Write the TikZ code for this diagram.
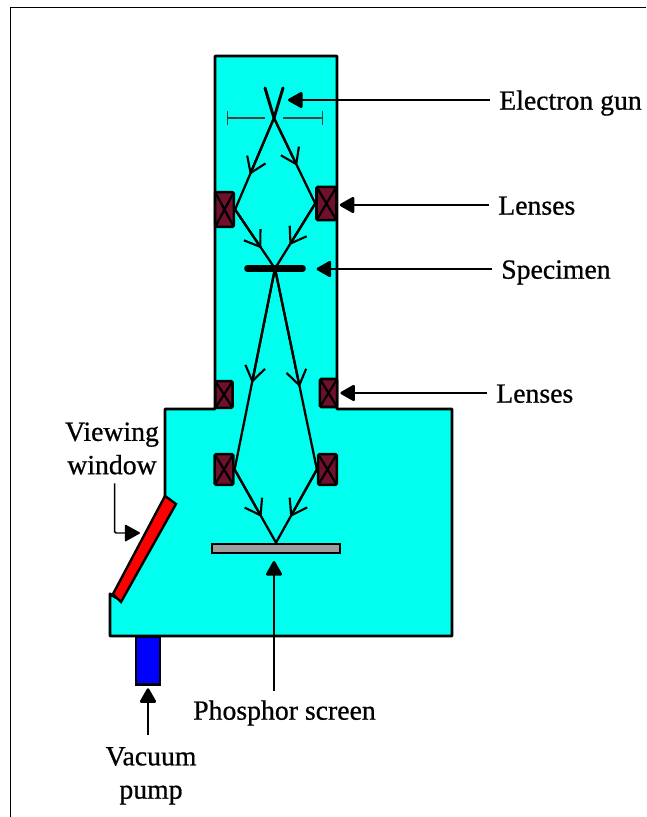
\documentclass[tikz,border=0pt]{standalone}
\usepackage{fontspec}
\setmainfont{Liberation Serif}
\newfontfamily\lblfont[RawFeature={embolden=0.7}]{Liberation Serif}
\usetikzlibrary{arrows.meta,positioning,calc}
\definecolor{chamber}{RGB}{0,255,238}
\definecolor{lensred}{RGB}{112,16,44}
\tikzset{
  lens/.style={draw=black,line width=1.9pt,fill=lensred,rounded corners=1pt,inner sep=0pt,
    path picture={\draw[black,line width=1.7pt] (path picture bounding box.north west) -- (path picture bounding box.south east)
      (path picture bounding box.north east) -- (path picture bounding box.south west);}},
  lbl/.style={font=\lblfont\fontsize{20.8}{25}\selectfont,inner sep=6.75pt,align=center,text height=14.5pt,text depth=0pt},
  beam/.style={line width=1.7pt,line cap=round},
  barb/.style={beam,-{Straight Barb[length=11pt,width=15pt,line width=1.6pt]}},
  pointer/.style={line width=2pt,-{Triangle[length=12pt,width=13pt,round]},shorten >=1.5pt}
}
\begin{document}
\begin{tikzpicture}[x=0.75pt,y=-0.75pt]
      \useasboundingbox (0,0) rectangle (646,817);
      \coordinate (frameA) at (10.5,817);
      \coordinate (frameB) at (10.5,7.5);
      \coordinate (frameC) at (646,7.5);
      \draw[line width=1.3pt] (frameA) -- (frameB) -- (frameC);
      % chamber and window
      \draw[fill=chamber,line width=2.2pt,line join=round] (215,56) -- (337,56) -- (337,409) -- (452,409) -- (452,636)
        -- (110,636) -- (110,594) -- (117,598) -- (170,500) -- (165,497) -- (165,409) -- (215,409) -- cycle;
      \draw[fill=red,line width=1.8pt] (165,496) -- (176,504) -- (121,602) -- (113,594) -- cycle;
      \node[draw,line width=2.2pt,fill=blue,minimum width=18pt,minimum height=36.5pt,inner sep=0pt] (pump) at (148,660.5) {};
      % lenses
      \node[lens,minimum width=14pt,minimum height=26pt] (lensUL) at (224.5,209.5) {};
      \node[lens,minimum width=15pt,minimum height=25pt] (lensUR) at (326.5,203.5) {};
      \node[lens,minimum width=13pt,minimum height=20pt] (lensML) at (224,394.5) {};
      \node[lens,minimum width=13pt,minimum height=21pt] (lensMR) at (328.5,393) {};
      \node[lens,minimum width=14pt,minimum height=23pt] (lensLL) at (224,469.5) {};
      \node[lens,minimum width=14pt,minimum height=23pt] (lensLR) at (327.5,469.5) {};
      % gun and aperture
      \coordinate (cross) at (274,118);
      \coordinate (gunA) at (265,88);
      \coordinate (gunB) at (283,88);
      \coordinate (gunTip) at (286,99);
      \coordinate (apA) at (227,118);
      \coordinate (apB) at (265,118);
      \coordinate (apC) at (283,118);
      \coordinate (apD) at (323,118);
      \draw[beam,line width=2.2pt] (gunA) -- (cross) (gunB) -- (cross);
      \draw[{Bar[width=11pt]}-,line width=1.1pt,black!75] (apA) -- (apB);
      \draw[-{Bar[width=11pt]},line width=1.1pt,black!75] (apC) -- (apD);
      % specimen and screen
      \node[fill=black,rounded corners=2pt,minimum width=46pt,minimum height=5pt,inner sep=0pt] (specimen) at (275,268.5) {};
      \node[draw,line width=1.8pt,fill=black!38,minimum width=96pt,minimum height=7pt,inner sep=0pt] (screen) at (276,548.5) {};
      % rays
      \foreach \a/\b/\p in {cross/lensUL.east/0.62,cross/lensUR.west/0.56,lensUL.east/specimen.center/0.66,
          lensUR.west/specimen.center/0.64,specimen.center/lensLL.east/0.57,specimen.center/lensLR.west/0.59,
          lensLL.east/screen.north/0.65,lensLR.west/screen.north/0.65}{
        \draw[beam] (\a) -- (\b);
        \draw[barb] (\a) -- ($(\a)!\p!(\b)$);
      }
      % labels
      \node[lbl,anchor=west] (lblGun) at (490,100) {Electron gun};
      \node[lbl,anchor=west] (lblLensA) at (489,205) {Lenses};
      \node[lbl,anchor=west] (lblSpec) at (492,269) {Specimen};
      \node[lbl,anchor=west] (lblLensB) at (487,393) {Lenses};
      \node[lbl] (lblView) at (112,464.5) {Viewing\\window};
      \node[lbl] (lblPhos) at (284.5,710) {Phosphor screen};
      \node[lbl] (lblVac) at (151,789) {Vacuum\\pump};
      \coordinate (viewTip) at (140,533);
      \coordinate (vacTail) at (148,735);
      \draw[pointer] (lblGun.west) -- (lblGun.west -| gunTip);
      \draw[pointer] (lblLensA.west) -- (lblLensA.west -| lensUR.east);
      \draw[pointer,shorten >=8pt] (lblSpec.west) -- (lblSpec.west -| specimen.east);
      \draw[pointer] (lblLensB.west) -- (lblLensB.west -| lensMR.east);
      \draw[pointer,shorten >=5pt] ([xshift=-1.5pt]screen.south |- lblPhos.north) -- ([xshift=-1.5pt]screen.south);
      \draw[pointer] (vacTail) -- (pump.south);
      \draw[line width=1.1pt,-{Triangle[length=12pt,width=13pt,round]},rounded corners=1pt] ([xshift=2pt]lblView.south) |- (viewTip);
    \end{tikzpicture}
\end{document}
